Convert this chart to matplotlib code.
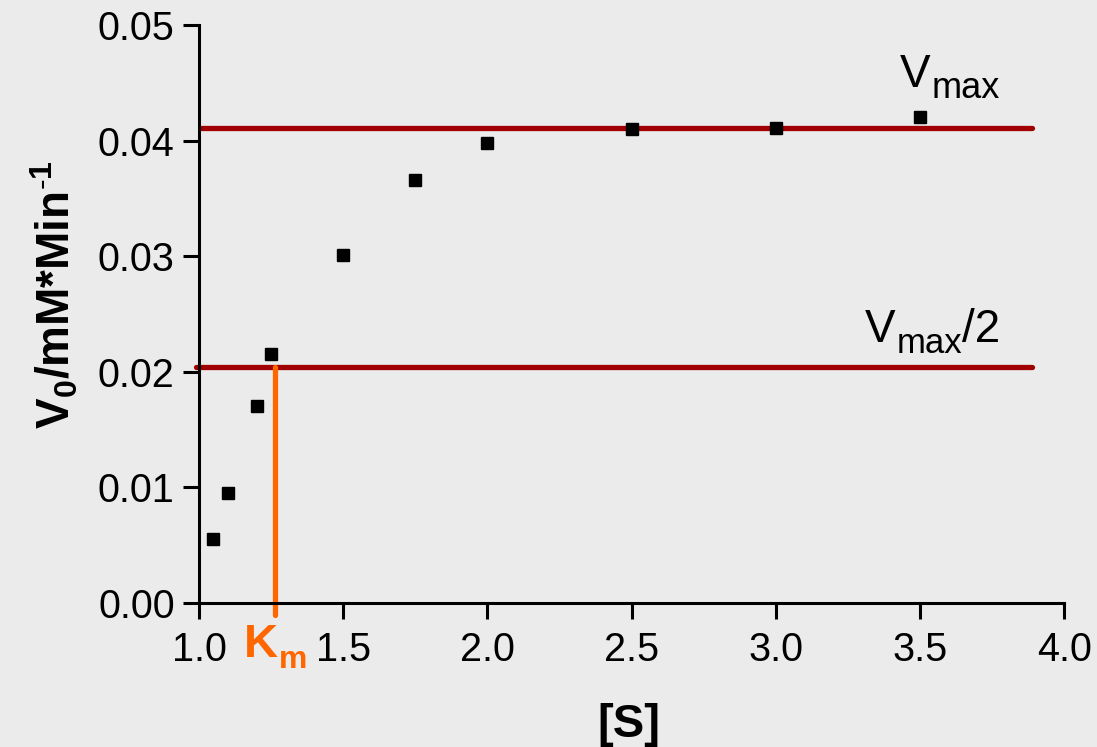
import numpy as np
import matplotlib
matplotlib.use("Agg")
import matplotlib.pyplot as plt

plt.rcParams['font.family'] = ['Liberation Sans', 'DejaVu Sans']
plt.rcParams['mathtext.fontset'] = 'custom'
plt.rcParams['mathtext.rm'] = 'Liberation Sans'
plt.rcParams['mathtext.it'] = 'Liberation Sans'
plt.rcParams['mathtext.bf'] = 'Liberation Sans:bold'

# substrate concentration and initial velocity
substrate = [1.05, 1.10, 1.20, 1.25, 1.50, 1.75, 2.00, 2.50, 3.00, 3.50]
velocity = [0.0055, 0.0095, 0.0170, 0.0215, 0.0301, 0.0366, 0.0398, 0.0410, 0.0411, 0.0420]

vmax = 0.0411
vmax_half = 0.0204
km = 1.264
line_end = 3.89

xticks = [1.0, 1.5, 2.0, 2.5, 3.0, 3.5, 4.0]
yticks = [0.00, 0.01, 0.02, 0.03, 0.04, 0.05]

bg = '#ebebeb'
red = '#a00000'
orange = '#ff6600'

fig = plt.figure(figsize=(10.97, 7.47), dpi=100, facecolor=bg)
ax = fig.add_axes([0.1814, 0.1928, 0.7886, 0.7737])
ax.set_facecolor(bg)

ax.plot([1.0, line_end], [vmax, vmax], color=red, lw=3.8, solid_capstyle='round', zorder=2)
ax.plot([0.99, line_end], [vmax_half, vmax_half], color=red, lw=3.8, solid_capstyle='round',
        clip_on=False, zorder=2)
ax.plot([km, km], [-0.001, vmax_half], color=orange, lw=3.8, solid_capstyle='round',
        clip_on=False, zorder=2)

ax.plot(substrate, velocity, 's', color='black', ms=9, zorder=3)

ax.set_xlim(1.0, 4.0)
ax.set_ylim(0.0, 0.05)
ax.set_xticks(xticks)
ax.set_yticks(yticks)
ax.set_xticklabels(['%.1f' % t for t in xticks])
ax.set_yticklabels(['%.2f' % t for t in yticks])

for s in ['top', 'right']:
    ax.spines[s].set_visible(False)
for s in ['left', 'bottom']:
    ax.spines[s].set_linewidth(2.2)
ax.tick_params(axis='both', length=11.5, width=2.2, labelsize=28.5, direction='out')
ax.tick_params(axis='x', pad=9)
ax.tick_params(axis='y', pad=6)

fig.text(629 / 1097, 10 / 747, '[S]', fontsize=34, fontweight='bold', ha='center', va='baseline')
fig.text(55 / 1097, 1 - 295 / 747, r'V$_\mathbf{0}$/mM*Min$^{\mathbf{\text{-}1}}$', fontsize=33,
         fontweight='bold', rotation=90, ha='center', va='center')


def label_with_sub(x, y, main, sub, size, subsize, drop, tail=None, **kw):
    t = ax.text(x, y, main, fontsize=size, ha='left', va='baseline', clip_on=False, **kw)
    s = ax.annotate(sub, xy=(1, y), xycoords=(t, 'data'), xytext=(0.5, -drop),
                    textcoords='offset points', fontsize=subsize, ha='left', va='baseline',
                    annotation_clip=False, **kw)
    if tail:
        ax.annotate(tail, xy=(1, y), xycoords=(s, 'data'), xytext=(0, 0),
                    textcoords='offset points', fontsize=size, ha='left', va='baseline',
                    annotation_clip=False, **kw)


label_with_sub(3.431, 0.04464, 'V', 'max', 33, 26, 8)
label_with_sub(3.310, 0.02258, 'V', 'max', 33, 25, 8, tail='/2')
label_with_sub(1.156, -0.00467, 'K', 'm', 34, 23, 8, color=orange, fontweight='bold')

fig.savefig('out.png', dpi=100, facecolor=bg)
